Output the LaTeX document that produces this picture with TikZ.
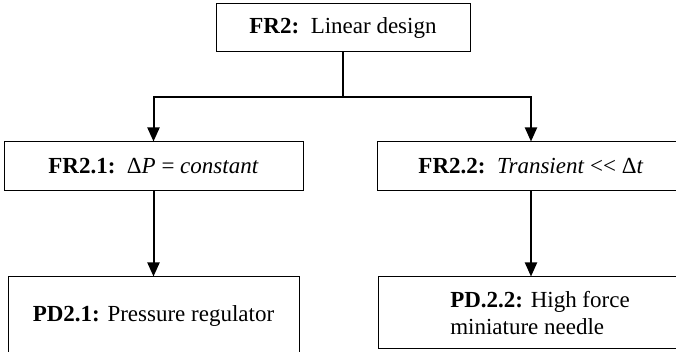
\documentclass[tikz,border=0pt]{standalone}
\usepackage{fontspec}
\setmainfont{Liberation Serif}
\usepackage{tikz}
\usetikzlibrary{
    arrows.meta
}

\begin{document}
\begin{tikzpicture}[x=0.5pt,y=-0.5pt,>={Triangle[width=6pt,length=7pt]},line width=1pt]
    \tikzstyle{req}=[draw, line width=0.5pt, inner sep=0pt, align=center, font=\fontsize{11.5}{13.5}\selectfont]
    \useasboundingbox (0,0) rectangle (676,352);
	\node [req, minimum width=127pt, minimum height=24pt] (fr2) at (343, 28) {\textbf{FR2:}\, Linear design};

	\node [req, minimum width=149.5pt, minimum height=24.5pt] (fr21) at (153.5, 166.5) {\textbf{FR2.1:}\, Δ\textit{P} = \textit{constant}};
	\node [req, minimum width=154pt, minimum height=24.5pt] (fr22) at (531, 166.5) {\textbf{FR2.2:}\, \textit{Transient} <\kern0pt< Δ\textit{t}};

	\node [req, minimum width=145.5pt, minimum height=39.5pt] (pd21) at (153.5, 316.5) {\textbf{PD2.1:} Pressure regulator};
	\node [req, minimum width=153pt, minimum height=36pt, align=left] (pd22) at (531, 313) {\hspace*{9pt}\textbf{PD.2.2:} High force\\\hspace*{9pt}miniature needle};

	\path (fr2.south) ++(0,45) coordinate (split);
	\draw [-] (fr2) -- (split);
	\draw [->] (split) -| (fr21);
	\draw [->] (split) -| (fr22);

	\draw [->] (fr21) -- (pd21);
	\draw [->] (fr22) -- (pd22);
\end{tikzpicture}
\end{document}
